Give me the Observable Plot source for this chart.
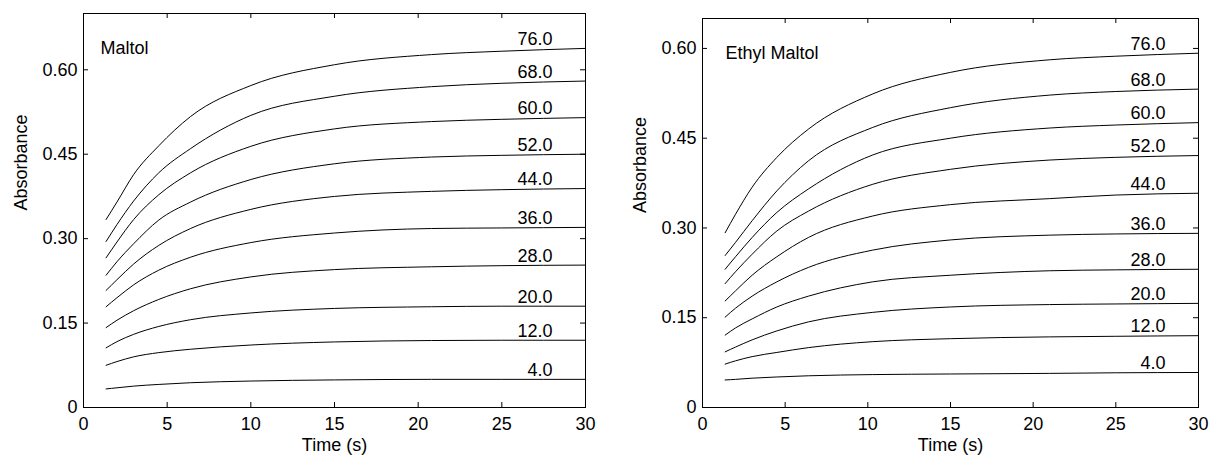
<!DOCTYPE html>
<html>
<head>
<meta charset="utf-8">
<script src="https://cdn.jsdelivr.net/npm/d3@7"></script>
<script src="https://cdn.jsdelivr.net/npm/@observablehq/plot@0.6"></script>
<style>
  html, body { margin: 0; padding: 0; background: #fff; }
  #wrap { position: relative; width: 1210px; height: 458px; }
  #left, #right { position: absolute; top: 0; }
  #left { left: 0; }
  #right { left: 605px; }
</style>
</head>
<body>
<div id="wrap"><div id="left"></div><div id="right"></div></div>
<script>
// ---- data ----
const concentrations = ["4.0", "12.0", "20.0", "28.0", "36.0", "44.0", "52.0", "60.0", "68.0", "76.0"];

const maltolTimes = [1.35, 2, 3, 4.5, 6.4, 10, 15, 20.8, 25, 30];
const maltolValues = [
  [0.033, 0.035, 0.038, 0.041, 0.044, 0.047, 0.049, 0.050, 0.050, 0.050],
  [0.075, 0.0816, 0.090, 0.0975, 0.1035, 0.111, 0.1165, 0.119, 0.1195, 0.1195],
  [0.106, 0.117, 0.130, 0.144, 0.156, 0.168, 0.176, 0.179, 0.180, 0.180],
  [0.142, 0.155, 0.172, 0.192, 0.211, 0.232, 0.245, 0.250, 0.252, 0.253],
  [0.179, 0.195, 0.218, 0.244, 0.267, 0.293, 0.310, 0.318, 0.319, 0.320],
  [0.208, 0.227, 0.255, 0.288, 0.318, 0.352, 0.375, 0.384, 0.387, 0.389],
  [0.235, 0.259, 0.291, 0.333, 0.365, 0.405, 0.433, 0.445, 0.448, 0.450],
  [0.266, 0.294, 0.334, 0.378, 0.417, 0.464, 0.495, 0.508, 0.512, 0.515],
  [0.295, 0.325, 0.367, 0.417, 0.460, 0.519, 0.553, 0.570, 0.576, 0.580],
  [0.334, 0.365, 0.414, 0.465, 0.517, 0.572, 0.609, 0.627, 0.633, 0.638]
];

const ethylTimes = [1.37, 2, 3, 4.5, 6.4, 10.3, 15, 21, 25, 30];
const ethylValues = [
  [0.046, 0.047, 0.049, 0.051, 0.053, 0.055, 0.056, 0.057, 0.058, 0.0585],
  [0.0725, 0.078, 0.085, 0.092, 0.100, 0.110, 0.115, 0.118, 0.119, 0.120],
  [0.093, 0.101, 0.113, 0.128, 0.143, 0.159, 0.168, 0.172, 0.173, 0.174],
  [0.121, 0.133, 0.148, 0.168, 0.186, 0.210, 0.221, 0.2285, 0.230, 0.231],
  [0.151, 0.166, 0.186, 0.210, 0.234, 0.263, 0.280, 0.288, 0.290, 0.291],
  [0.178, 0.195, 0.221, 0.252, 0.284, 0.320, 0.339, 0.349, 0.355, 0.358],
  [0.207, 0.227, 0.256, 0.295, 0.328, 0.373, 0.398, 0.4135, 0.418, 0.421],
  [0.231, 0.252, 0.284, 0.326, 0.365, 0.422, 0.450, 0.467, 0.472, 0.476],
  [0.254, 0.276, 0.312, 0.362, 0.412, 0.468, 0.501, 0.522, 0.528, 0.532],
  [0.292, 0.323, 0.368, 0.418, 0.465, 0.524, 0.560, 0.581, 0.587, 0.592]
];

const xTicks = [0, 5, 10, 15, 20, 25, 30];
const yTicks = [0, 0.15, 0.30, 0.45, 0.60];
const yTickLabels = ["0", "0.15", "0.30", "0.45", "0.60"];

// ---- chart ----
const FONT = "'Liberation Sans', Arial, Helvetica, sans-serif";

function rows(times, values) {
  const out = [];
  values.forEach((series, i) => series.forEach((v, j) => out.push({t: times[j], v, c: concentrations[i]})));
  return out;
}

function panel({times, values, title, yMax, margins, titleDx}) {
  const W = 605, H = 458;
  const plotW = W - margins.left - margins.right;
  const plotH = H - margins.top - margins.bottom;
  const data = rows(times, values);
  const ends = values.map((s, i) => ({t: times[times.length - 1], v: s[s.length - 1], c: concentrations[i]}));
  const tick = 5;
  return Plot.plot({
    width: W, height: H,
    marginLeft: margins.left, marginRight: margins.right,
    marginTop: margins.top, marginBottom: margins.bottom,
    style: {fontFamily: FONT, fontSize: "18px", background: "white", color: "black"},
    x: {domain: [0, 30]},
    y: {domain: [0, yMax]},
    marks: [
      Plot.line(data, {x: "t", y: "v", z: "c", stroke: "black", strokeWidth: 1, curve: "monotone-x"}),
      Plot.text(ends, {x: "t", y: "v", text: "c", dx: -33, dy: -3.5, textAnchor: "end", lineAnchor: "bottom", fontSize: 18, fill: "black"}),
      Plot.ruleX(xTicks, {insetTop: plotH - tick, stroke: "black"}),
      Plot.ruleX(xTicks, {insetBottom: plotH - tick, stroke: "black"}),
      Plot.ruleY(yTicks, {insetRight: plotW - tick, stroke: "black"}),
      Plot.ruleY(yTicks, {insetLeft: plotW - tick, stroke: "black"}),
      Plot.frame({stroke: "black", strokeWidth: 1}),
      Plot.axisX(xTicks, {tickSize: 0, tickPadding: 10, label: null, tickFormat: d => String(d), fontSize: 18}),
      Plot.axisY(yTicks, {tickSize: 0, tickPadding: 6, label: null, tickFormat: d => yTickLabels[yTicks.indexOf(d)], fontSize: 18}),
      Plot.text([title], {frameAnchor: "top-left", dx: titleDx, dy: 28, textAnchor: "start", lineAnchor: "top", fontSize: 18, fill: "black"}),
      Plot.text(["Time (s)"], {frameAnchor: "bottom", dy: 43.5, lineAnchor: "bottom", fontSize: 18, fill: "black"}),
      Plot.text(["Absorbance"], {frameAnchor: "left", dx: -62.5, rotate: -90, lineAnchor: "middle", fontSize: 18, fill: "black"})
    ]
  });
}

document.getElementById("left").append(panel({
  times: maltolTimes, values: maltolValues, title: "Maltol", yMax: 0.70,
  margins: {left: 83, right: 20, top: 13, bottom: 51}, titleDx: 17
}));
document.getElementById("right").append(panel({
  times: ethylTimes, values: ethylValues, title: "Ethyl Maltol", yMax: 0.65,
  margins: {left: 97, right: 12, top: 18, bottom: 51}, titleDx: 23
}));
</script>
</body>
</html>
